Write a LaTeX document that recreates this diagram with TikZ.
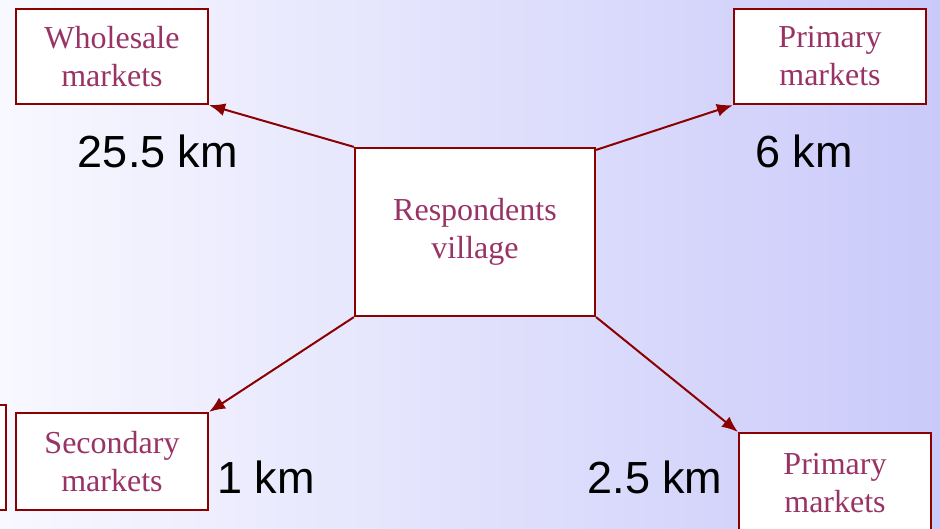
\documentclass[tikz,border=0pt]{standalone}
\usepackage{fontspec}
\setmainfont{Liberation Serif}
\newfontfamily\labelfont{Liberation Sans}
\usetikzlibrary{arrows.meta}
\definecolor{boxline}{HTML}{8B0000}
\definecolor{boxtext}{HTML}{993366}
\definecolor{bgleft}{RGB}{248,248,255}
\definecolor{bgright}{RGB}{202,202,250}
\tikzset{
  market/.style={draw=boxline, line width=2.2pt, fill=white, text=boxtext,
    minimum width=192pt, minimum height=95pt, align=center,
    font=\fontsize{32}{38}\selectfont, inner sep=0pt},
  dist/.style={font=\labelfont\fontsize{45}{50}\selectfont, text=black, inner sep=0pt},
  link/.style={draw=boxline, line width=2pt, -{Latex[length=16pt,width=13pt]}}
}
\begin{document}
\begin{tikzpicture}[x=1pt, y=-1pt]
\clip (0,0) rectangle (940,528);
\shade[left color=bgleft, right color=bgright] (0,0) rectangle (940,528);

% boxes
\node[market] (wholesale) at (112,56.5) {Wholesale\\markets};
\node[market] (primtop) at (830,56.5) {Primary\\markets};
\node[market, minimum width=240pt, minimum height=168pt] (village) at (475,232) {Respondents\\village};
\node[market, minimum height=97pt] (secondary) at (112,461.5) {Secondary\\markets};
\node[market, minimum height=100pt] (primbot) at (835,483) {Primary\\markets};
\node[market, minimum height=105pt] (leftbox) at (-90,457.5) {};

% links from the village
\draw[link] (village.north west) -- (wholesale.south east);
\draw[link] ([yshift=-3pt]village.north east) -- (primtop.south west);
\draw[link] (village.south west) -- (secondary.north east);
\draw[link] (village.south east) -- (primbot.north west);

% distances
\node[dist] (d1) at (158,151) {25.5 km};
\node[dist] (d2) at (804,151) {6 km};
\node[dist] (d3) at (266,477) {1 km};
\node[dist] (d4) at (655,477) {2.5 km};
\end{tikzpicture}
\end{document}
